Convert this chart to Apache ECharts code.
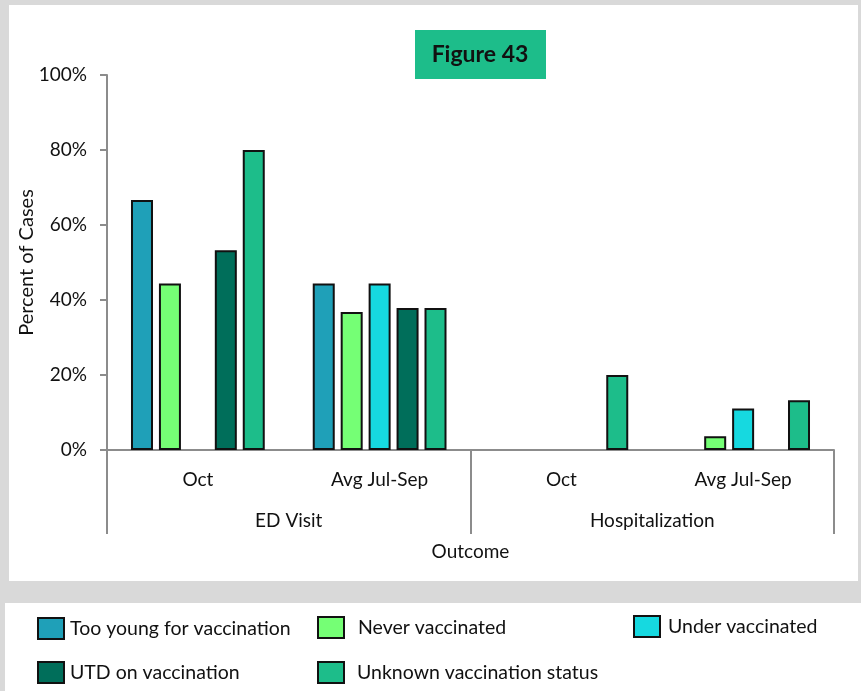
<!DOCTYPE html>
<html>
<head>
<meta charset="utf-8">
<script src="https://cdn.jsdelivr.net/npm/echarts@6/dist/echarts.min.js"></script>
<style>
html,body{margin:0;padding:0;background:#d9d9d9;}
#chart{width:861px;height:691px;}
</style>
</head>
<body>
<div id="chart"></div>
<script>
// Data
var categories = ['Oct', 'Avg Jul-Sep', 'Oct', 'Avg Jul-Sep'];
var outcomes = ['ED Visit', 'Hospitalization'];
var seriesNames = ['Too young for vaccination', 'Never vaccinated', 'Under vaccinated', 'UTD on vaccination', 'Unknown vaccination status'];
var tooYoung = [66.7, 44.4, null, null];
var neverVax = [44.4, 36.8, null, 3.7];
var underVax = [null, 44.4, null, 11.1];
var utdVax = [53.3, 37.9, null, null];
var unknownVax = [80.0, 37.9, 20.0, 13.3];
var yTicks = [0, 20, 40, 60, 80, 100];

var colors = ['#1fa0b8', '#75ff75', '#16d9e0', '#006e5a', '#1dbd8a'];
var values = [tooYoung, neverVax, underVax, utdVax, unknownVax];
var FONT = 'Lato';
var TXT = '#111111';

var chart = echarts.init(document.getElementById('chart'));

var series = seriesNames.map(function (n, i) {
  return {
    name: n,
    type: 'bar',
    xAxisIndex: 0,
    barWidth: 22,
    barGap: '27%',
    data: values[i],
    itemStyle: { color: colors[i], borderColor: '#111', borderWidth: 2 }
  };
});

function legendAt(name, left, top, textPad) {
  return {
    data: [name],
    left: left,
    top: top,
    icon: 'rect',
    itemWidth: 26,
    itemHeight: 21,
    padding: 0,
    selectedMode: false,
    itemStyle: { borderColor: '#111', borderWidth: 2 },
    textStyle: { fontFamily: FONT, fontSize: 19.5, color: TXT, padding: textPad || [0, 0, 0, 0] }
  };
}

var option = {
  backgroundColor: '#d9d9d9',
  animation: false,
  textStyle: { fontFamily: FONT },
  graphic: [
    { type: 'rect', z: -10, shape: { x: 9, y: 5, width: 849, height: 576 }, style: { fill: '#ffffff' } },
    { type: 'rect', z: -10, shape: { x: 5, y: 603, width: 856, height: 88 }, style: { fill: '#ffffff' } },
    { type: 'rect', z: 10, shape: { x: 415, y: 30, width: 131, height: 49 }, style: { fill: '#1dbd8a' } },
    { type: 'text', z: 11, x: 480, y: 55, style: { text: 'Figure 43', fontFamily: FONT, fontWeight: 'bold', fontSize: 23, fill: '#111', align: 'center', verticalAlign: 'middle' } }
  ],
  legend: [
    legendAt(seriesNames[0], 37, 617, [0, 0, 0, 1]),
    legendAt(seriesNames[1], 317, 616, [0, 0, 8, 9]),
    legendAt(seriesNames[2], 633, 615, [0, 0, 0, 3]),
    legendAt(seriesNames[3], 37, 661, [0, 0, 0, 1]),
    legendAt(seriesNames[4], 317, 661, [0, 0, 0, 8])
  ],
  grid: { left: 107, right: 27, top: 75, bottom: 241, containLabel: false },
  xAxis: [
    {
      type: 'category',
      data: categories,
      position: 'bottom',
      axisLine: { show: true, lineStyle: { color: '#8c8c8c', width: 2 } },
      axisTick: { show: false },
      axisLabel: { fontFamily: FONT, fontSize: 19, color: TXT, margin: 20, interval: 0 }
    },
    {
      type: 'category',
      data: outcomes,
      position: 'bottom',
      offset: 0,
      axisLine: { show: false },
      axisTick: { show: true, length: 84, interval: 0, lineStyle: { color: '#8c8c8c', width: 2 } },
      axisLabel: { fontFamily: FONT, fontSize: 19, color: TXT, margin: 61, interval: 0 },
      name: 'Outcome',
      nameLocation: 'middle',
      nameGap: 92,
      nameMoveOverlap: false,
      nameTextStyle: { fontFamily: FONT, fontSize: 19, color: TXT }
    }
  ],
  yAxis: {
    type: 'value',
    min: yTicks[0],
    max: yTicks[yTicks.length - 1],
    interval: 20,
    name: 'Percent of Cases',
    nameLocation: 'middle',
    nameGap: 70,
    nameMoveOverlap: false,
    nameTextStyle: { fontFamily: FONT, fontSize: 20, color: TXT },
    axisLine: { show: true, lineStyle: { color: '#8c8c8c', width: 2 } },
    axisTick: { show: true, length: 7, lineStyle: { color: '#8c8c8c', width: 2 } },
    splitLine: { show: false },
    axisLabel: { fontFamily: FONT, fontSize: 19, color: TXT, margin: 20, formatter: '{value}%' }
  },
  series: series
};

chart.setOption(option);
</script>
</body>
</html>
